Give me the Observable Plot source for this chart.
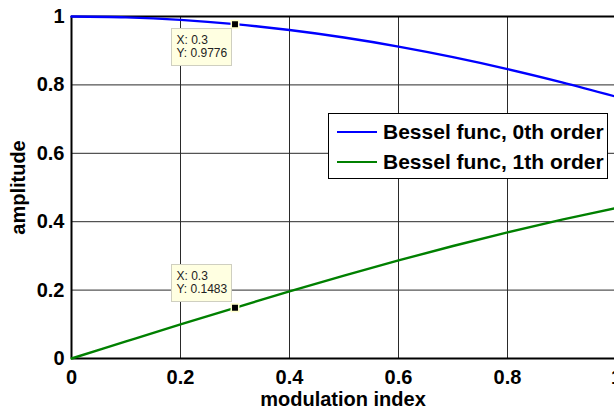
<!DOCTYPE html>
<html>
<head>
<meta charset="utf-8">
<script src="https://cdn.jsdelivr.net/npm/d3@7"></script>
<script src="https://cdn.jsdelivr.net/npm/@observablehq/plot@0.6"></script>
<style>
  html, body { margin: 0; padding: 0; background: #fff; }
  #wrap { position: relative; width: 614px; height: 408px; overflow: hidden; font-family: "Liberation Sans", Arial, Helvetica, sans-serif; }
  .legend { position: absolute; background: #fff; border: 1px solid #000; box-sizing: border-box; font-weight: bold; font-size: 21px; color: #000; }
  .legend .row { position: absolute; left: 8px; height: 20px; display: flex; align-items: center; white-space: nowrap; }
  .legend .sw { width: 40px; height: 2px; margin-right: 6px; }
  .tip { position: absolute; background: #ffffe1; border: 1px solid #cfcfc0; box-sizing: border-box; font-size: 12px; line-height: 13px; color: #222; padding: 5px 0 0 5px; width: 61px; height: 38px; white-space: nowrap; }
</style>
</head>
<body>
<div id="wrap"></div>
<script>
const xValues = [0, 0.1, 0.2, 0.3, 0.4, 0.5, 0.6, 0.7, 0.8, 0.9, 1.0];
const bessel0 = [1.0, 0.9975, 0.9900, 0.9776, 0.9604, 0.9385, 0.9120, 0.8812, 0.8463, 0.8075, 0.7652];
const bessel1 = [0.0, 0.0499, 0.0995, 0.1483, 0.1960, 0.2423, 0.2867, 0.3290, 0.3688, 0.4059, 0.4401];
const seriesNames = ["Bessel func, 0th order", "Bessel func, 1th order"];
const seriesColors = ["#0000ff", "#008000"];
const tickValues = [0, 0.2, 0.4, 0.6, 0.8, 1];
const tipX = [0.3, 0.3];
const tipY = [0.9776, 0.1483];
const xLabel = "modulation index";
const yLabel = "amplitude";

const rows = [];
xValues.forEach((x, i) => {
  rows.push({x, y: bessel0[i], s: seriesNames[0]});
  rows.push({x, y: bessel1[i], s: seriesNames[1]});
});
const tips = tipX.map((x, i) => ({x, y: tipY[i]}));

const chart = Plot.plot({
  width: 614,
  height: 408,
  marginLeft: 71,
  marginRight: 0,
  marginTop: 16,
  marginBottom: 50,
  style: {fontFamily: '"Liberation Sans", Arial, Helvetica, sans-serif', fontSize: "20px", fontWeight: "bold", color: "#000", background: "#fff"},
  x: {domain: [0, 1], range: [71, 616]},
  y: {domain: [0, 1], range: [358, 16]},
  color: {domain: seriesNames, range: seriesColors},
  marks: [
    Plot.gridX(tickValues, {stroke: "#2a2a2a", strokeOpacity: 1, strokeWidth: 1}),
    Plot.gridY(tickValues, {stroke: "#2a2a2a", strokeOpacity: 1, strokeWidth: 1}),
    Plot.ruleY([0, 1], {stroke: "#000", strokeWidth: 2}),
    Plot.ruleX([0], {stroke: "#000", strokeWidth: 2}),
    Plot.axisX(tickValues, {tickSize: 0, tickPadding: 11, tickFormat: d => String(d), fontSize: 20, fontWeight: "bold", label: xLabel, labelAnchor: "center", labelArrow: "none", labelOffset: 47}),
    Plot.axisY(tickValues, {tickSize: 0, tickPadding: 7, tickFormat: d => String(d), fontSize: 20, fontWeight: "bold", label: yLabel, labelAnchor: "center", labelArrow: "none", labelOffset: 61}),
    Plot.line(rows, {x: "x", y: "y", z: "s", stroke: "s", strokeWidth: 2.4, curve: "catmull-rom"}),
    Plot.dot(tips, {x: "x", y: "y", symbol: "square", r: 4.2, fill: "#000", stroke: "#ffffcc", strokeWidth: 1.5})
  ]
});

const wrap = document.getElementById("wrap");
wrap.appendChild(chart);

const sx = chart.scale("x"), sy = chart.scale("y");

// data tips
tips.forEach((t, i) => {
  const px = sx.apply(t.x), py = sy.apply(t.y);
  const d = document.createElement("div");
  d.className = "tip";
  d.innerHTML = `X: ${t.x}<br>Y: ${t.y}`;
  d.style.left = (px - 3 - 61) + "px";
  if (i === 0) d.style.top = (py + 4) + "px";
  else d.style.top = (py - 5 - 38) + "px";
  wrap.appendChild(d);
});

// legend
const lg = document.createElement("div");
lg.className = "legend";
lg.style.left = "328px";
lg.style.top = "113px";
lg.style.width = "280px";
lg.style.height = "66px";
seriesNames.forEach((name, i) => {
  const r = document.createElement("div");
  r.className = "row";
  r.style.top = (8 + i * 30) + "px";
  r.innerHTML = `<span class="sw" style="background:${seriesColors[i]}"></span><span>${name}</span>`;
  lg.appendChild(r);
});
wrap.appendChild(lg);
</script>
</body>
</html>
